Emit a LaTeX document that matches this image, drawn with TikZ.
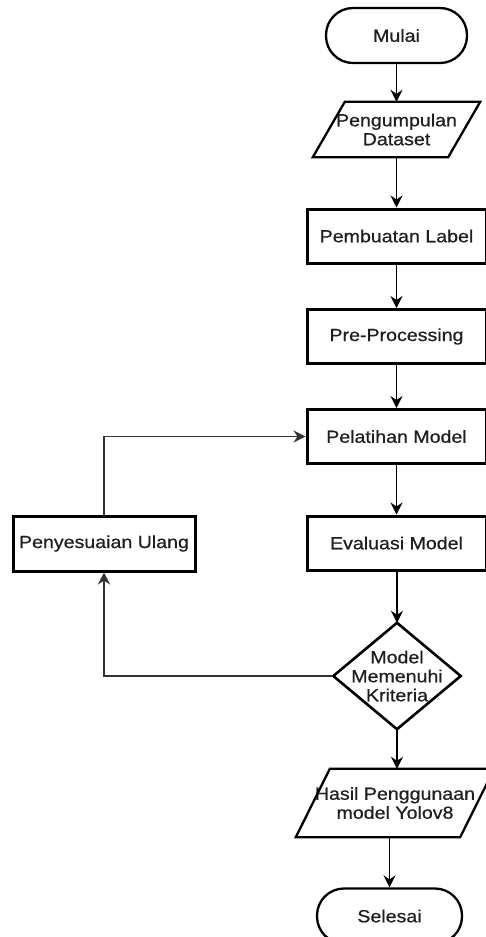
\documentclass[tikz,border=0pt]{standalone}
\usepackage{fontspec}
\setmainfont{Liberation Sans}[FakeStretch=1.12,FakeBold=0.7]
\usetikzlibrary{arrows.meta,calc}
\tikzset{
  base/.style={font=\fontsize{17.5}{19}\selectfont, align=center, inner sep=0pt, text=black!88},
  proc/.style={base, draw, line width=3pt, minimum width=179pt, minimum height=54pt},
  term/.style={base, draw, line width=2.3pt, rounded corners=27pt, minimum height=55pt},
  io/.style={base, minimum height=55pt},
  ioline/.style={draw, line width=2.3pt, line join=miter},
  decline/.style={draw, line width=2.6pt, line join=miter},
  arr/.style={-{Stealth[length=12pt,width=12pt,inset=4pt]}, line width=1.8pt},
  back/.style={arr, line width=1.6pt, draw=black!80}
}
\begin{document}
\begin{tikzpicture}[x=1pt,y=-1pt]
\useasboundingbox (0,0) rectangle (486,937);
% terminators
\node[term, minimum width=141pt] (mulai) at (396.5,35.5) {Mulai};
\node[term, minimum width=145pt] (selesai) at (389.5,916) {Selesai};
% input/output 1
\node[io, minimum width=135pt] (data) at (396.5,129.5) {Pengumpulan\\Dataset};
\draw[ioline] ([xshift=16pt]data.north west) -- ([xshift=16pt]data.north east)
  -- ([xshift=-16pt]data.south east) -- ([xshift=-16pt]data.south west) -- cycle;
% processes
\node[proc] (label) at (396.5,236) {Pembuatan Label};
\node[proc] (pre) at (396.5,336.5) {Pre-Processing};
\node[proc] (latih) at (396.5,436.5) {Pelatihan Model};
\node[proc] (eval) at (396.5,543) {Evaluasi Model};
\node[proc, minimum width=182pt, minimum height=55pt] (ulang) at (104,543.5) {Penyesuaian Ulang};
% decision
\node[base, minimum width=127pt, minimum height=106pt] (dec) at (397,676) {Model\\Memenuhi\\Kriteria};
\draw[decline] (dec.north) -- (dec.east) -- (dec.south) -- (dec.west) -- cycle;
% input/output 2
\node[io, minimum width=164pt, minimum height=68pt] (hasil) at (395,803) {Hasil Penggunaan\\model Yolov8};
\draw[ioline] ([xshift=17pt]hasil.north west) -- ([xshift=17pt]hasil.north east)
  -- ([xshift=-17pt]hasil.south east) -- ([xshift=-17pt]hasil.south west) -- cycle;
% connectors
\draw[arr] (mulai) -- (data);
\draw[arr] (data) -- (label);
\draw[arr] (label) -- (pre);
\draw[arr] (pre) -- (latih);
\draw[arr] (latih) -- (eval);
\draw[arr] (eval.south -| dec.north) -- (dec.north);
\draw[arr] (dec.south) -- (hasil.north -| dec.south);
\draw[arr] (selesai.north |- hasil.south) -- (selesai.north);
\draw[back] (dec.west) -| (ulang.south);
\draw[back] (ulang.north) |- (latih.west);
\end{tikzpicture}
\end{document}
